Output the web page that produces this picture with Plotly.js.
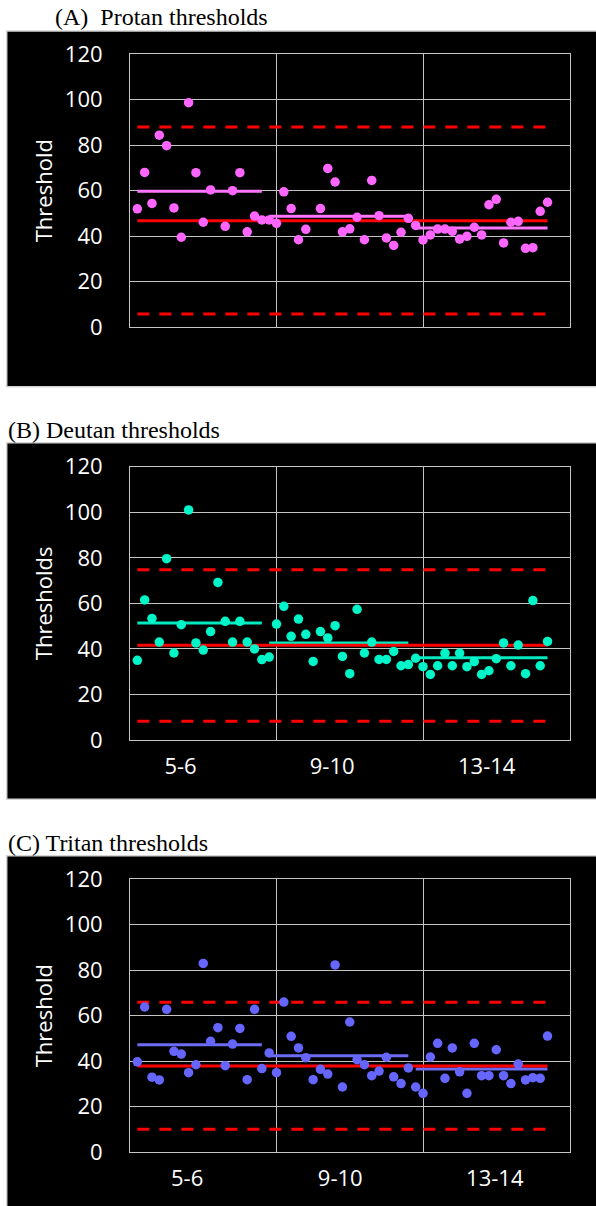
<!DOCTYPE html>
<html><head><meta charset="utf-8">
<script src="https://cdn.plot.ly/plotly-3.0.1.min.js"></script>
<style>html,body{margin:0;padding:0;background:#fff;}#chart{width:596px;height:1206px;}</style>
</head><body><div id="chart"></div>
<script>
// ---------- data ----------
const subjects = [1,2,3,4,5,6,7,8,9,10,11,12,13,14,15,16,17,18,19,20,21,22,23,24,25,26,27,28,29,30,31,32,33,34,35,36,37,38,39,40,41,42,43,44,45,46,47,48,49,50,51,52,53,54,55,56,57];
const protan = [52,68,54.4,84.4,79.8,52.4,39.5,98.7,67.9,46.1,60.3,null,44.3,60,67.9,41.9,48.8,47.1,
  47.1,45.6,59.5,52.1,38.4,43.0,null,52.1,69.8,63.8,41.9,43.2,48.3,38.4,64.5,49.0,39.2,35.9,41.7,47.8,
  44.7,38.3,40.5,43.1,43.1,42.1,38.7,39.9,43.9,40.5,53.8,56.2,37.0,46.1,46.5,34.6,34.9,50.9,54.9];
const deutan = [35.0,61.5,53.4,43.0,79.6,38.2,50.6,101.0,42.6,39.5,47.6,69.2,52.1,43.0,52.1,43.0,40.0,35.3,
  36.4,50.9,58.7,45.5,53.1,46.4,34.5,47.6,44.8,50.2,36.7,29.1,57.4,38.2,43.0,35.4,35.4,38.9,32.6,33.1,
  35.9,32.2,28.8,32.6,38.1,32.6,38.1,32.2,34.4,28.8,30.4,35.7,42.6,32.6,41.7,29.1,61.2,32.6,43.3];
const tritan = [39.7,63.8,32.9,31.7,62.8,44.3,43.1,34.9,38.4,83.0,48.7,54.7,38.0,47.5,54.4,31.8,62.8,36.7,
  43.6,34.9,66.0,50.9,45.8,41.5,31.8,36.4,34.3,82.3,28.6,57.2,40.6,38.4,33.6,35.6,41.7,33.1,30.1,37.0,
  28.6,25.8,41.8,47.8,32.4,45.8,35.3,25.8,47.8,33.6,33.6,45.0,33.6,30.1,38.7,31.7,32.7,32.4,51.0];
const groupLabels = ['5-6','9-10','13-14'];
const groupStart = [1,19,39];
const groupEnd = [18,38,57];
const protanGroupMeans = [59.7,48.7,43.6];
const deutanGroupMeans = [51.4,42.6,36.1];
const tritanGroupMeans = [47.2,42.4,36.5];
const refMean  = [46.8,41.6,37.8];
const refUpper = [88.0,74.8,65.9];
const refLower = [5.7,8.2,10.0];
const panelTitles = ['(A)\u00a0 Protan thresholds','(B) Deutan thresholds','(C) Tritan thresholds'];
const yTitles = ['Threshold','Thresholds','Threshold'];
const yTicks = [0,20,40,60,80,100,120];

// ---------- layout helpers ----------
const W = 596, H = 1206;
const px = v => v / W;
const py = v => 1 - v / H;
const panels = [
  {vals: protan, means: protanGroupMeans, color: '#ff66ff', lineColor: '#ff77ff',
   top: 54.3, bottom: 327, boxTop: 31, boxBottom: 386.7, labels: false, labelPos: null},
  {vals: deutan, means: deutanGroupMeans, color: '#00f5c8', lineColor: '#00eabf',
   top: 466.7, bottom: 740, boxTop: 442.7, boxBottom: 799.3, labels: true, labelPos: [6.9,27.6,48.7]},
  {vals: tritan, means: tritanGroupMeans, color: '#6666ff', lineColor: '#6c6cf4',
   top: 879.3, bottom: 1152, boxTop: 855.7, boxBottom: 1215, labels: true, labelPos: [7.8,28.7,49.8]}
];
const gridC = '#c4c4c4';
const tickFont = {family: 'Open Sans, sans-serif', size: 22, color: '#ffffff'};

const traces = [];
const layout = {
  width: W, height: H, margin: {l:0, r:0, t:0, b:0},
  paper_bgcolor: '#ffffff', plot_bgcolor: 'rgba(0,0,0,0)',
  showlegend: false, shapes: [], annotations: []
};

panels.forEach((p, i) => {
  const n = i === 0 ? '' : String(i + 1);
  const xa = 'x' + n, ya = 'y' + n;
  // group means
  for (let g = 0; g < 3; g++) {
    traces.push({x: [groupStart[g], groupEnd[g]], y: [p.means[g], p.means[g]], xaxis: xa, yaxis: ya,
      mode: 'lines', line: {color: p.lineColor, width: 3}, hoverinfo: 'skip'});
  }
  // reference mean and limits
  const xFull = [subjects[0], subjects[subjects.length - 1]];
  traces.push({x: xFull, y: [refMean[i], refMean[i]], xaxis: xa, yaxis: ya, mode: 'lines',
    line: {color: '#ff0000', width: 3}, hoverinfo: 'skip'});
  [refUpper[i], refLower[i]].forEach(v => traces.push({x: xFull, y: [v, v], xaxis: xa, yaxis: ya,
    mode: 'lines', line: {color: '#ff0000', width: 3, dash: '12px,10px'}, hoverinfo: 'skip'}));
  // subjects
  traces.push({x: subjects, y: p.vals, xaxis: xa, yaxis: ya, mode: 'markers',
    marker: {color: p.color, size: 9.5}});

  layout['xaxis' + n] = {
    domain: [px(130), px(569.5)], range: [0, 60], anchor: ya,
    showline: true, mirror: true, linecolor: gridC, linewidth: 1,
    zeroline: false, showgrid: false, ticks: '',
    tickmode: 'array', tickvals: p.labelPos || [], ticktext: groupLabels,
    showticklabels: p.labels, tickfont: tickFont, ticklabelstandoff: 7,
    minor: {tick0: 0, dtick: 20, showgrid: true, gridcolor: gridC, gridwidth: 1, ticks: ''}
  };
  layout['yaxis' + n] = {
    domain: [py(p.bottom), py(p.top)], range: [0, 120], anchor: xa,
    showline: true, mirror: true, linecolor: gridC, linewidth: 1,
    zeroline: false, showgrid: true, gridcolor: gridC, gridwidth: 1, ticks: '',
    tickmode: 'array', tickvals: yTicks, tickfont: tickFont, ticklabelstandoff: 22,
    title: {text: yTitles[i], font: {family: 'Open Sans, sans-serif', size: 22, color: '#ffffff'}, standoff: 6}
  };
  layout.shapes.push({type: 'rect', xref: 'paper', yref: 'paper', layer: 'below',
    x0: px(6.7), x1: px(610), y0: py(p.boxBottom), y1: py(p.boxTop),
    fillcolor: '#000000', line: {color: '#d4d4d4', width: 1.5}});
});

layout.annotations.push(
  {text: panelTitles[0], xref: 'paper', yref: 'paper', x: px(161), y: py(17.5), xanchor: 'center', yanchor: 'middle',
   showarrow: false, font: {family: 'Liberation Serif, serif', size: 24, color: '#000'}},
  {text: panelTitles[1], xref: 'paper', yref: 'paper', x: px(6), y: py(430), xanchor: 'left', yanchor: 'middle',
   showarrow: false, font: {family: 'Liberation Serif, serif', size: 24, color: '#000'}},
  {text: panelTitles[2], xref: 'paper', yref: 'paper', x: px(6), y: py(843), xanchor: 'left', yanchor: 'middle',
   showarrow: false, font: {family: 'Liberation Serif, serif', size: 24, color: '#000'}}
);

Plotly.newPlot('chart', traces, layout, {displayModeBar: false, staticPlot: true});
</script></body></html>
